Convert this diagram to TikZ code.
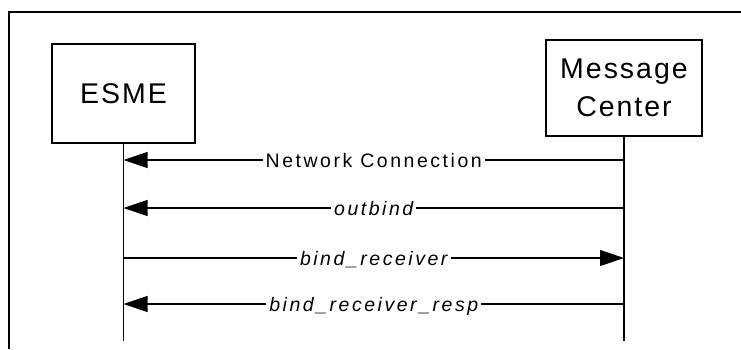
\documentclass[tikz,border=0pt]{standalone}
\usepackage{fontspec}
\setmainfont{Liberation Sans}
\newfontfamily\actorfont[LetterSpace=7]{Liberation Sans}
\newfontfamily\msgfont[LetterSpace=13]{Liberation Sans}
\usetikzlibrary{arrows.meta}
\begin{document}
\begin{tikzpicture}[x=1pt,y=1pt,
        actor/.style={draw,line width=1.2pt,inner sep=0pt,align=center,
            font=\actorfont\fontsize{28.5}{38}\selectfont},
        lifeline/.style={line width=1.2pt},
        msg/.style={line width=1.2pt,-{Triangle[length=24pt,width=16pt]}},
        lbl/.style={fill=white,inner xsep=3pt,inner ysep=0pt,anchor=base,yshift=-7pt,
            font=\msgfont\fontsize{19.5}{22}\selectfont}]
    \useasboundingbox (0,0) rectangle (741,349);
    \draw[line width=1.8pt] (9,0) -- (9,337) -- (741,337);
    \node[actor,minimum width=143pt,minimum height=99pt] (esme) at (123.5,255.5) {ESME};
    \node[actor,minimum width=156pt,minimum height=96pt] (mc) at (624,261) {Message\\Center};
    \coordinate (esme end) at (esme.south |- 0,8);
    \coordinate (mc end) at (mc.south |- 0,8);
    \draw[lifeline] (esme.south) -- (esme end);
    \draw[lifeline] (mc.south) -- (mc end);
    \foreach \y/\m in {189/nc,141/ob,91/br,45/brr} {
        \coordinate (esme \m) at (esme.south |- 0,\y);
        \coordinate (mc \m) at (mc.south |- 0,\y);
    }
    \draw[msg] (mc nc) -- node[lbl]{Network Connection} (esme nc);
    \draw[msg] (mc ob) -- node[lbl]{\itshape outbind} (esme ob);
    \draw[msg] (esme br) -- node[lbl]{\itshape bind\_receiver} (mc br);
    \draw[msg] (mc brr) -- node[lbl]{\itshape bind\_receiver\_resp} (esme brr);
\end{tikzpicture}
\end{document}
